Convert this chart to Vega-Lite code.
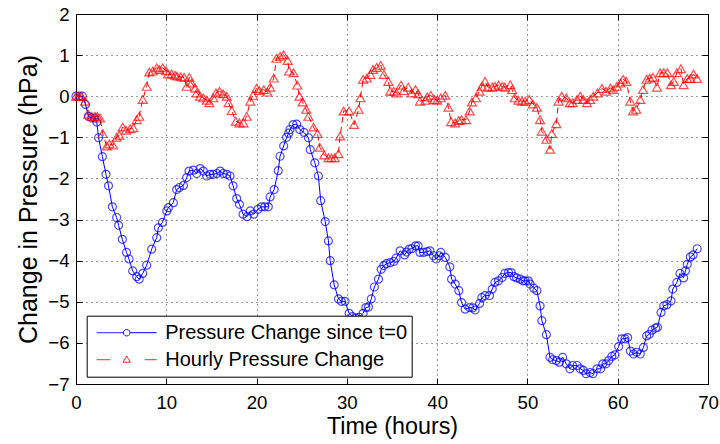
{
"$schema": "https://vega.github.io/schema/vega-lite/v6.json",
"width": 632, "height": 370,
"autosize": {"type": "none"},
"padding": {"left": 76, "top": 14, "right": 12, "bottom": 60},
"background": "white",
"config": {
 "font": "Liberation Sans",
 "view": {"stroke": "#000", "strokeWidth": 1},
 "axis": {"domainColor": "#000", "domainWidth": 1, "tickColor": "#000", "tickWidth": 1, "tickSize": -6,
  "gridColor": "#000", "gridDash": [1, 4], "gridWidth": 1, "gridOpacity": 0.8,
  "labelColor": "#000", "labelFont": "Liberation Sans", "labelFontSize": 18.6,
  "titleFont": "Liberation Sans", "titleColor": "#000", "titleFontWeight": "normal", "labelOverlap": false}
},
"data": {"values": [
{"t":0.0,"v":0.0,"s":"Pressure Change since t=0"},
{"t":0.35,"v":0.0,"s":"Pressure Change since t=0"},
{"t":0.7,"v":0.0,"s":"Pressure Change since t=0"},
{"t":1.05,"v":-0.2,"s":"Pressure Change since t=0"},
{"t":1.37,"v":-0.49,"s":"Pressure Change since t=0"},
{"t":1.74,"v":-0.53,"s":"Pressure Change since t=0"},
{"t":2.05,"v":-0.53,"s":"Pressure Change since t=0"},
{"t":2.3,"v":-0.63,"s":"Pressure Change since t=0"},
{"t":2.5,"v":-1.01,"s":"Pressure Change since t=0"},
{"t":2.92,"v":-1.47,"s":"Pressure Change since t=0"},
{"t":3.32,"v":-1.9,"s":"Pressure Change since t=0"},
{"t":3.6,"v":-2.18,"s":"Pressure Change since t=0"},
{"t":4.03,"v":-2.69,"s":"Pressure Change since t=0"},
{"t":4.5,"v":-2.95,"s":"Pressure Change since t=0"},
{"t":4.72,"v":-3.14,"s":"Pressure Change since t=0"},
{"t":5.13,"v":-3.48,"s":"Pressure Change since t=0"},
{"t":5.6,"v":-3.8,"s":"Pressure Change since t=0"},
{"t":5.87,"v":-3.96,"s":"Pressure Change since t=0"},
{"t":6.28,"v":-4.25,"s":"Pressure Change since t=0"},
{"t":6.72,"v":-4.39,"s":"Pressure Change since t=0"},
{"t":7.0,"v":-4.45,"s":"Pressure Change since t=0"},
{"t":7.39,"v":-4.31,"s":"Pressure Change since t=0"},
{"t":7.83,"v":-4.11,"s":"Pressure Change since t=0"},
{"t":8.38,"v":-3.72,"s":"Pressure Change since t=0"},
{"t":8.94,"v":-3.44,"s":"Pressure Change since t=0"},
{"t":9.12,"v":-3.2,"s":"Pressure Change since t=0"},
{"t":9.57,"v":-3.07,"s":"Pressure Change since t=0"},
{"t":10.05,"v":-2.79,"s":"Pressure Change since t=0"},
{"t":10.23,"v":-2.71,"s":"Pressure Change since t=0"},
{"t":10.78,"v":-2.59,"s":"Pressure Change since t=0"},
{"t":11.15,"v":-2.27,"s":"Pressure Change since t=0"},
{"t":11.45,"v":-2.22,"s":"Pressure Change since t=0"},
{"t":11.9,"v":-2.17,"s":"Pressure Change since t=0"},
{"t":12.26,"v":-1.98,"s":"Pressure Change since t=0"},
{"t":12.52,"v":-1.82,"s":"Pressure Change since t=0"},
{"t":13.0,"v":-1.8,"s":"Pressure Change since t=0"},
{"t":13.37,"v":-1.88,"s":"Pressure Change since t=0"},
{"t":13.74,"v":-1.76,"s":"Pressure Change since t=0"},
{"t":14.1,"v":-1.82,"s":"Pressure Change since t=0"},
{"t":14.48,"v":-1.94,"s":"Pressure Change since t=0"},
{"t":14.85,"v":-1.9,"s":"Pressure Change since t=0"},
{"t":15.2,"v":-1.9,"s":"Pressure Change since t=0"},
{"t":15.6,"v":-1.88,"s":"Pressure Change since t=0"},
{"t":15.96,"v":-1.82,"s":"Pressure Change since t=0"},
{"t":16.3,"v":-1.88,"s":"Pressure Change since t=0"},
{"t":16.7,"v":-1.9,"s":"Pressure Change since t=0"},
{"t":17.06,"v":-1.94,"s":"Pressure Change since t=0"},
{"t":17.4,"v":-2.18,"s":"Pressure Change since t=0"},
{"t":17.8,"v":-2.49,"s":"Pressure Change since t=0"},
{"t":18.1,"v":-2.63,"s":"Pressure Change since t=0"},
{"t":18.5,"v":-2.87,"s":"Pressure Change since t=0"},
{"t":18.95,"v":-2.93,"s":"Pressure Change since t=0"},
{"t":19.3,"v":-2.79,"s":"Pressure Change since t=0"},
{"t":19.7,"v":-2.87,"s":"Pressure Change since t=0"},
{"t":20.15,"v":-2.75,"s":"Pressure Change since t=0"},
{"t":20.55,"v":-2.69,"s":"Pressure Change since t=0"},
{"t":20.9,"v":-2.69,"s":"Pressure Change since t=0"},
{"t":21.3,"v":-2.69,"s":"Pressure Change since t=0"},
{"t":21.5,"v":-2.45,"s":"Pressure Change since t=0"},
{"t":21.95,"v":-2.27,"s":"Pressure Change since t=0"},
{"t":22.4,"v":-1.81,"s":"Pressure Change since t=0"},
{"t":22.6,"v":-1.46,"s":"Pressure Change since t=0"},
{"t":23.0,"v":-1.21,"s":"Pressure Change since t=0"},
{"t":23.33,"v":-1.0,"s":"Pressure Change since t=0"},
{"t":23.55,"v":-0.9,"s":"Pressure Change since t=0"},
{"t":23.7,"v":-0.81,"s":"Pressure Change since t=0"},
{"t":24.05,"v":-0.69,"s":"Pressure Change since t=0"},
{"t":24.45,"v":-0.68,"s":"Pressure Change since t=0"},
{"t":24.78,"v":-0.81,"s":"Pressure Change since t=0"},
{"t":25.25,"v":-0.88,"s":"Pressure Change since t=0"},
{"t":25.75,"v":-1.01,"s":"Pressure Change since t=0"},
{"t":25.95,"v":-1.3,"s":"Pressure Change since t=0"},
{"t":26.45,"v":-1.62,"s":"Pressure Change since t=0"},
{"t":26.85,"v":-1.94,"s":"Pressure Change since t=0"},
{"t":27.1,"v":-2.54,"s":"Pressure Change since t=0"},
{"t":27.6,"v":-3.05,"s":"Pressure Change since t=0"},
{"t":27.96,"v":-3.52,"s":"Pressure Change since t=0"},
{"t":28.15,"v":-4.0,"s":"Pressure Change since t=0"},
{"t":28.6,"v":-4.59,"s":"Pressure Change since t=0"},
{"t":29.07,"v":-4.93,"s":"Pressure Change since t=0"},
{"t":29.4,"v":-4.99,"s":"Pressure Change since t=0"},
{"t":29.8,"v":-4.99,"s":"Pressure Change since t=0"},
{"t":30.25,"v":-5.28,"s":"Pressure Change since t=0"},
{"t":30.6,"v":-5.36,"s":"Pressure Change since t=0"},
{"t":31.0,"v":-5.4,"s":"Pressure Change since t=0"},
{"t":31.35,"v":-5.38,"s":"Pressure Change since t=0"},
{"t":31.8,"v":-5.28,"s":"Pressure Change since t=0"},
{"t":32.1,"v":-5.14,"s":"Pressure Change since t=0"},
{"t":32.4,"v":-5.13,"s":"Pressure Change since t=0"},
{"t":32.7,"v":-4.93,"s":"Pressure Change since t=0"},
{"t":33.05,"v":-4.64,"s":"Pressure Change since t=0"},
{"t":33.5,"v":-4.45,"s":"Pressure Change since t=0"},
{"t":33.8,"v":-4.21,"s":"Pressure Change since t=0"},
{"t":34.1,"v":-4.12,"s":"Pressure Change since t=0"},
{"t":34.4,"v":-4.07,"s":"Pressure Change since t=0"},
{"t":34.8,"v":-4.05,"s":"Pressure Change since t=0"},
{"t":35.2,"v":-4.02,"s":"Pressure Change since t=0"},
{"t":35.45,"v":-3.94,"s":"Pressure Change since t=0"},
{"t":35.9,"v":-3.76,"s":"Pressure Change since t=0"},
{"t":36.4,"v":-3.86,"s":"Pressure Change since t=0"},
{"t":36.6,"v":-3.79,"s":"Pressure Change since t=0"},
{"t":36.9,"v":-3.72,"s":"Pressure Change since t=0"},
{"t":37.2,"v":-3.71,"s":"Pressure Change since t=0"},
{"t":37.6,"v":-3.64,"s":"Pressure Change since t=0"},
{"t":37.9,"v":-3.64,"s":"Pressure Change since t=0"},
{"t":38.1,"v":-3.8,"s":"Pressure Change since t=0"},
{"t":38.5,"v":-3.8,"s":"Pressure Change since t=0"},
{"t":38.9,"v":-3.78,"s":"Pressure Change since t=0"},
{"t":39.2,"v":-3.76,"s":"Pressure Change since t=0"},
{"t":39.6,"v":-3.88,"s":"Pressure Change since t=0"},
{"t":39.9,"v":-3.96,"s":"Pressure Change since t=0"},
{"t":40.25,"v":-3.88,"s":"Pressure Change since t=0"},
{"t":40.4,"v":-3.8,"s":"Pressure Change since t=0"},
{"t":40.9,"v":-3.92,"s":"Pressure Change since t=0"},
{"t":41.4,"v":-4.15,"s":"Pressure Change since t=0"},
{"t":41.6,"v":-4.45,"s":"Pressure Change since t=0"},
{"t":42.0,"v":-4.57,"s":"Pressure Change since t=0"},
{"t":42.4,"v":-4.73,"s":"Pressure Change since t=0"},
{"t":42.7,"v":-5.02,"s":"Pressure Change since t=0"},
{"t":43.1,"v":-5.18,"s":"Pressure Change since t=0"},
{"t":43.6,"v":-5.14,"s":"Pressure Change since t=0"},
{"t":43.95,"v":-5.15,"s":"Pressure Change since t=0"},
{"t":44.2,"v":-5.2,"s":"Pressure Change since t=0"},
{"t":44.7,"v":-5.04,"s":"Pressure Change since t=0"},
{"t":44.95,"v":-4.9,"s":"Pressure Change since t=0"},
{"t":45.3,"v":-4.85,"s":"Pressure Change since t=0"},
{"t":45.8,"v":-4.85,"s":"Pressure Change since t=0"},
{"t":46.1,"v":-4.69,"s":"Pressure Change since t=0"},
{"t":46.4,"v":-4.53,"s":"Pressure Change since t=0"},
{"t":46.8,"v":-4.49,"s":"Pressure Change since t=0"},
{"t":47.2,"v":-4.41,"s":"Pressure Change since t=0"},
{"t":47.5,"v":-4.31,"s":"Pressure Change since t=0"},
{"t":47.9,"v":-4.29,"s":"Pressure Change since t=0"},
{"t":48.2,"v":-4.29,"s":"Pressure Change since t=0"},
{"t":48.5,"v":-4.39,"s":"Pressure Change since t=0"},
{"t":48.8,"v":-4.42,"s":"Pressure Change since t=0"},
{"t":49.2,"v":-4.45,"s":"Pressure Change since t=0"},
{"t":49.5,"v":-4.49,"s":"Pressure Change since t=0"},
{"t":49.75,"v":-4.49,"s":"Pressure Change since t=0"},
{"t":50.1,"v":-4.49,"s":"Pressure Change since t=0"},
{"t":50.3,"v":-4.57,"s":"Pressure Change since t=0"},
{"t":50.7,"v":-4.67,"s":"Pressure Change since t=0"},
{"t":51.05,"v":-4.73,"s":"Pressure Change since t=0"},
{"t":51.4,"v":-5.1,"s":"Pressure Change since t=0"},
{"t":51.6,"v":-5.46,"s":"Pressure Change since t=0"},
{"t":52.1,"v":-5.8,"s":"Pressure Change since t=0"},
{"t":52.5,"v":-6.35,"s":"Pressure Change since t=0"},
{"t":52.8,"v":-6.41,"s":"Pressure Change since t=0"},
{"t":53.2,"v":-6.43,"s":"Pressure Change since t=0"},
{"t":53.55,"v":-6.47,"s":"Pressure Change since t=0"},
{"t":53.9,"v":-6.35,"s":"Pressure Change since t=0"},
{"t":54.3,"v":-6.51,"s":"Pressure Change since t=0"},
{"t":54.7,"v":-6.63,"s":"Pressure Change since t=0"},
{"t":55.0,"v":-6.55,"s":"Pressure Change since t=0"},
{"t":55.5,"v":-6.55,"s":"Pressure Change since t=0"},
{"t":55.85,"v":-6.63,"s":"Pressure Change since t=0"},
{"t":56.2,"v":-6.67,"s":"Pressure Change since t=0"},
{"t":56.5,"v":-6.75,"s":"Pressure Change since t=0"},
{"t":56.95,"v":-6.72,"s":"Pressure Change since t=0"},
{"t":57.25,"v":-6.75,"s":"Pressure Change since t=0"},
{"t":57.7,"v":-6.63,"s":"Pressure Change since t=0"},
{"t":58.1,"v":-6.63,"s":"Pressure Change since t=0"},
{"t":58.35,"v":-6.51,"s":"Pressure Change since t=0"},
{"t":58.7,"v":-6.51,"s":"Pressure Change since t=0"},
{"t":59.0,"v":-6.43,"s":"Pressure Change since t=0"},
{"t":59.35,"v":-6.33,"s":"Pressure Change since t=0"},
{"t":59.7,"v":-6.29,"s":"Pressure Change since t=0"},
{"t":60.1,"v":-6.09,"s":"Pressure Change since t=0"},
{"t":60.45,"v":-5.9,"s":"Pressure Change since t=0"},
{"t":60.8,"v":-5.9,"s":"Pressure Change since t=0"},
{"t":61.1,"v":-5.87,"s":"Pressure Change since t=0"},
{"t":61.4,"v":-6.2,"s":"Pressure Change since t=0"},
{"t":61.75,"v":-6.27,"s":"Pressure Change since t=0"},
{"t":62.1,"v":-6.23,"s":"Pressure Change since t=0"},
{"t":62.5,"v":-6.27,"s":"Pressure Change since t=0"},
{"t":62.85,"v":-6.11,"s":"Pressure Change since t=0"},
{"t":63.2,"v":-5.83,"s":"Pressure Change since t=0"},
{"t":63.5,"v":-5.79,"s":"Pressure Change since t=0"},
{"t":63.8,"v":-5.69,"s":"Pressure Change since t=0"},
{"t":64.2,"v":-5.64,"s":"Pressure Change since t=0"},
{"t":64.4,"v":-5.62,"s":"Pressure Change since t=0"},
{"t":64.8,"v":-5.26,"s":"Pressure Change since t=0"},
{"t":65.1,"v":-5.1,"s":"Pressure Change since t=0"},
{"t":65.45,"v":-5.07,"s":"Pressure Change since t=0"},
{"t":65.9,"v":-4.98,"s":"Pressure Change since t=0"},
{"t":66.1,"v":-4.69,"s":"Pressure Change since t=0"},
{"t":66.55,"v":-4.53,"s":"Pressure Change since t=0"},
{"t":66.9,"v":-4.31,"s":"Pressure Change since t=0"},
{"t":67.3,"v":-4.42,"s":"Pressure Change since t=0"},
{"t":67.5,"v":-4.25,"s":"Pressure Change since t=0"},
{"t":67.7,"v":-4.09,"s":"Pressure Change since t=0"},
{"t":68.05,"v":-3.91,"s":"Pressure Change since t=0"},
{"t":68.35,"v":-3.86,"s":"Pressure Change since t=0"},
{"t":68.8,"v":-3.71,"s":"Pressure Change since t=0"},
{"t":0.0,"v":0.0,"s":"Hourly Pressure Change"},
{"t":0.3,"v":0.0,"s":"Hourly Pressure Change"},
{"t":0.6,"v":0.0,"s":"Hourly Pressure Change"},
{"t":1.0,"v":-0.12,"s":"Hourly Pressure Change"},
{"t":1.37,"v":-0.44,"s":"Hourly Pressure Change"},
{"t":1.74,"v":-0.49,"s":"Hourly Pressure Change"},
{"t":2.1,"v":-0.49,"s":"Hourly Pressure Change"},
{"t":2.37,"v":-0.49,"s":"Hourly Pressure Change"},
{"t":2.66,"v":-0.53,"s":"Hourly Pressure Change"},
{"t":2.96,"v":-0.91,"s":"Hourly Pressure Change"},
{"t":3.4,"v":-1.21,"s":"Hourly Pressure Change"},
{"t":3.7,"v":-1.16,"s":"Hourly Pressure Change"},
{"t":4.1,"v":-1.19,"s":"Hourly Pressure Change"},
{"t":4.5,"v":-1.0,"s":"Hourly Pressure Change"},
{"t":4.8,"v":-0.95,"s":"Hourly Pressure Change"},
{"t":5.17,"v":-0.75,"s":"Hourly Pressure Change"},
{"t":5.54,"v":-0.83,"s":"Hourly Pressure Change"},
{"t":6.0,"v":-0.79,"s":"Hourly Pressure Change"},
{"t":6.35,"v":-0.77,"s":"Hourly Pressure Change"},
{"t":6.72,"v":-0.57,"s":"Hourly Pressure Change"},
{"t":7.0,"v":-0.49,"s":"Hourly Pressure Change"},
{"t":7.39,"v":-0.08,"s":"Hourly Pressure Change"},
{"t":7.83,"v":0.24,"s":"Hourly Pressure Change"},
{"t":8.12,"v":0.59,"s":"Hourly Pressure Change"},
{"t":8.5,"v":0.61,"s":"Hourly Pressure Change"},
{"t":8.94,"v":0.69,"s":"Hourly Pressure Change"},
{"t":9.23,"v":0.65,"s":"Hourly Pressure Change"},
{"t":9.6,"v":0.69,"s":"Hourly Pressure Change"},
{"t":9.97,"v":0.62,"s":"Hourly Pressure Change"},
{"t":10.2,"v":0.54,"s":"Hourly Pressure Change"},
{"t":10.6,"v":0.54,"s":"Hourly Pressure Change"},
{"t":10.97,"v":0.51,"s":"Hourly Pressure Change"},
{"t":11.2,"v":0.49,"s":"Hourly Pressure Change"},
{"t":11.6,"v":0.47,"s":"Hourly Pressure Change"},
{"t":11.97,"v":0.46,"s":"Hourly Pressure Change"},
{"t":12.26,"v":0.24,"s":"Hourly Pressure Change"},
{"t":12.55,"v":0.46,"s":"Hourly Pressure Change"},
{"t":12.8,"v":0.32,"s":"Hourly Pressure Change"},
{"t":13.2,"v":0.2,"s":"Hourly Pressure Change"},
{"t":13.37,"v":0.08,"s":"Hourly Pressure Change"},
{"t":13.74,"v":0.0,"s":"Hourly Pressure Change"},
{"t":14.1,"v":-0.04,"s":"Hourly Pressure Change"},
{"t":14.48,"v":-0.1,"s":"Hourly Pressure Change"},
{"t":14.77,"v":-0.16,"s":"Hourly Pressure Change"},
{"t":15.2,"v":-0.04,"s":"Hourly Pressure Change"},
{"t":15.5,"v":0.08,"s":"Hourly Pressure Change"},
{"t":15.9,"v":0.12,"s":"Hourly Pressure Change"},
{"t":16.3,"v":0.06,"s":"Hourly Pressure Change"},
{"t":16.7,"v":0.0,"s":"Hourly Pressure Change"},
{"t":16.9,"v":-0.16,"s":"Hourly Pressure Change"},
{"t":17.25,"v":-0.35,"s":"Hourly Pressure Change"},
{"t":17.7,"v":-0.61,"s":"Hourly Pressure Change"},
{"t":18.1,"v":-0.65,"s":"Hourly Pressure Change"},
{"t":18.55,"v":-0.65,"s":"Hourly Pressure Change"},
{"t":18.9,"v":-0.49,"s":"Hourly Pressure Change"},
{"t":19.3,"v":-0.12,"s":"Hourly Pressure Change"},
{"t":19.6,"v":0.02,"s":"Hourly Pressure Change"},
{"t":20.0,"v":0.19,"s":"Hourly Pressure Change"},
{"t":20.3,"v":0.14,"s":"Hourly Pressure Change"},
{"t":20.8,"v":0.16,"s":"Hourly Pressure Change"},
{"t":21.2,"v":0.1,"s":"Hourly Pressure Change"},
{"t":21.5,"v":0.22,"s":"Hourly Pressure Change"},
{"t":21.9,"v":0.44,"s":"Hourly Pressure Change"},
{"t":22.2,"v":0.92,"s":"Hourly Pressure Change"},
{"t":22.6,"v":0.97,"s":"Hourly Pressure Change"},
{"t":23.0,"v":1.01,"s":"Hourly Pressure Change"},
{"t":23.45,"v":0.87,"s":"Hourly Pressure Change"},
{"t":23.6,"v":0.61,"s":"Hourly Pressure Change"},
{"t":24.1,"v":0.57,"s":"Hourly Pressure Change"},
{"t":24.5,"v":0.27,"s":"Hourly Pressure Change"},
{"t":24.75,"v":0.0,"s":"Hourly Pressure Change"},
{"t":25.1,"v":-0.14,"s":"Hourly Pressure Change"},
{"t":25.5,"v":-0.32,"s":"Hourly Pressure Change"},
{"t":25.75,"v":-0.49,"s":"Hourly Pressure Change"},
{"t":26.3,"v":-0.75,"s":"Hourly Pressure Change"},
{"t":26.75,"v":-0.91,"s":"Hourly Pressure Change"},
{"t":27.0,"v":-1.24,"s":"Hourly Pressure Change"},
{"t":27.5,"v":-1.43,"s":"Hourly Pressure Change"},
{"t":27.96,"v":-1.5,"s":"Hourly Pressure Change"},
{"t":28.3,"v":-1.5,"s":"Hourly Pressure Change"},
{"t":28.65,"v":-1.5,"s":"Hourly Pressure Change"},
{"t":29.07,"v":-1.4,"s":"Hourly Pressure Change"},
{"t":29.25,"v":-0.97,"s":"Hourly Pressure Change"},
{"t":29.65,"v":-0.36,"s":"Hourly Pressure Change"},
{"t":30.25,"v":-0.36,"s":"Hourly Pressure Change"},
{"t":30.8,"v":-0.69,"s":"Hourly Pressure Change"},
{"t":31.3,"v":-0.32,"s":"Hourly Pressure Change"},
{"t":31.5,"v":-0.04,"s":"Hourly Pressure Change"},
{"t":31.8,"v":0.41,"s":"Hourly Pressure Change"},
{"t":32.2,"v":0.44,"s":"Hourly Pressure Change"},
{"t":32.6,"v":0.53,"s":"Hourly Pressure Change"},
{"t":32.9,"v":0.65,"s":"Hourly Pressure Change"},
{"t":33.3,"v":0.7,"s":"Hourly Pressure Change"},
{"t":33.75,"v":0.75,"s":"Hourly Pressure Change"},
{"t":34.1,"v":0.53,"s":"Hourly Pressure Change"},
{"t":34.6,"v":0.36,"s":"Hourly Pressure Change"},
{"t":34.8,"v":0.12,"s":"Hourly Pressure Change"},
{"t":35.2,"v":0.12,"s":"Hourly Pressure Change"},
{"t":35.5,"v":0.08,"s":"Hourly Pressure Change"},
{"t":36.0,"v":0.27,"s":"Hourly Pressure Change"},
{"t":36.3,"v":0.14,"s":"Hourly Pressure Change"},
{"t":36.8,"v":0.22,"s":"Hourly Pressure Change"},
{"t":37.2,"v":0.08,"s":"Hourly Pressure Change"},
{"t":37.6,"v":0.16,"s":"Hourly Pressure Change"},
{"t":37.9,"v":0.06,"s":"Hourly Pressure Change"},
{"t":38.1,"v":-0.12,"s":"Hourly Pressure Change"},
{"t":38.7,"v":-0.1,"s":"Hourly Pressure Change"},
{"t":38.9,"v":-0.02,"s":"Hourly Pressure Change"},
{"t":39.3,"v":0.02,"s":"Hourly Pressure Change"},
{"t":39.7,"v":-0.08,"s":"Hourly Pressure Change"},
{"t":40.0,"v":-0.1,"s":"Hourly Pressure Change"},
{"t":40.4,"v":-0.04,"s":"Hourly Pressure Change"},
{"t":40.9,"v":0.02,"s":"Hourly Pressure Change"},
{"t":41.25,"v":-0.27,"s":"Hourly Pressure Change"},
{"t":41.55,"v":-0.62,"s":"Hourly Pressure Change"},
{"t":42.0,"v":-0.65,"s":"Hourly Pressure Change"},
{"t":42.4,"v":-0.59,"s":"Hourly Pressure Change"},
{"t":42.7,"v":-0.57,"s":"Hourly Pressure Change"},
{"t":43.2,"v":-0.57,"s":"Hourly Pressure Change"},
{"t":43.6,"v":-0.36,"s":"Hourly Pressure Change"},
{"t":43.85,"v":-0.14,"s":"Hourly Pressure Change"},
{"t":44.3,"v":-0.04,"s":"Hourly Pressure Change"},
{"t":44.7,"v":0.12,"s":"Hourly Pressure Change"},
{"t":44.95,"v":0.24,"s":"Hourly Pressure Change"},
{"t":45.3,"v":0.36,"s":"Hourly Pressure Change"},
{"t":45.6,"v":0.22,"s":"Hourly Pressure Change"},
{"t":46.1,"v":0.22,"s":"Hourly Pressure Change"},
{"t":46.4,"v":0.24,"s":"Hourly Pressure Change"},
{"t":46.8,"v":0.27,"s":"Hourly Pressure Change"},
{"t":47.2,"v":0.24,"s":"Hourly Pressure Change"},
{"t":47.5,"v":0.22,"s":"Hourly Pressure Change"},
{"t":48.1,"v":0.28,"s":"Hourly Pressure Change"},
{"t":48.3,"v":0.16,"s":"Hourly Pressure Change"},
{"t":48.6,"v":-0.04,"s":"Hourly Pressure Change"},
{"t":49.0,"v":-0.1,"s":"Hourly Pressure Change"},
{"t":49.4,"v":-0.12,"s":"Hourly Pressure Change"},
{"t":49.75,"v":-0.12,"s":"Hourly Pressure Change"},
{"t":50.2,"v":-0.08,"s":"Hourly Pressure Change"},
{"t":50.6,"v":-0.19,"s":"Hourly Pressure Change"},
{"t":51.05,"v":-0.27,"s":"Hourly Pressure Change"},
{"t":51.4,"v":-0.57,"s":"Hourly Pressure Change"},
{"t":51.6,"v":-0.85,"s":"Hourly Pressure Change"},
{"t":52.1,"v":-1.05,"s":"Hourly Pressure Change"},
{"t":52.5,"v":-1.29,"s":"Hourly Pressure Change"},
{"t":52.7,"v":-0.91,"s":"Hourly Pressure Change"},
{"t":53.2,"v":-0.67,"s":"Hourly Pressure Change"},
{"t":53.45,"v":-0.12,"s":"Hourly Pressure Change"},
{"t":53.8,"v":0.0,"s":"Hourly Pressure Change"},
{"t":54.3,"v":-0.04,"s":"Hourly Pressure Change"},
{"t":54.7,"v":-0.16,"s":"Hourly Pressure Change"},
{"t":55.0,"v":-0.16,"s":"Hourly Pressure Change"},
{"t":55.5,"v":-0.08,"s":"Hourly Pressure Change"},
{"t":55.85,"v":0.0,"s":"Hourly Pressure Change"},
{"t":56.2,"v":-0.08,"s":"Hourly Pressure Change"},
{"t":56.6,"v":-0.16,"s":"Hourly Pressure Change"},
{"t":56.95,"v":-0.08,"s":"Hourly Pressure Change"},
{"t":57.3,"v":0.0,"s":"Hourly Pressure Change"},
{"t":57.75,"v":0.08,"s":"Hourly Pressure Change"},
{"t":58.25,"v":0.19,"s":"Hourly Pressure Change"},
{"t":58.7,"v":0.12,"s":"Hourly Pressure Change"},
{"t":59.2,"v":0.2,"s":"Hourly Pressure Change"},
{"t":59.5,"v":0.16,"s":"Hourly Pressure Change"},
{"t":59.9,"v":0.24,"s":"Hourly Pressure Change"},
{"t":60.3,"v":0.32,"s":"Hourly Pressure Change"},
{"t":60.6,"v":0.41,"s":"Hourly Pressure Change"},
{"t":60.95,"v":0.36,"s":"Hourly Pressure Change"},
{"t":61.4,"v":-0.12,"s":"Hourly Pressure Change"},
{"t":61.7,"v":-0.36,"s":"Hourly Pressure Change"},
{"t":62.05,"v":-0.32,"s":"Hourly Pressure Change"},
{"t":62.5,"v":-0.08,"s":"Hourly Pressure Change"},
{"t":62.8,"v":0.16,"s":"Hourly Pressure Change"},
{"t":63.2,"v":0.41,"s":"Hourly Pressure Change"},
{"t":63.55,"v":0.44,"s":"Hourly Pressure Change"},
{"t":63.9,"v":0.46,"s":"Hourly Pressure Change"},
{"t":64.35,"v":0.22,"s":"Hourly Pressure Change"},
{"t":64.7,"v":0.57,"s":"Hourly Pressure Change"},
{"t":65.1,"v":0.57,"s":"Hourly Pressure Change"},
{"t":65.5,"v":0.57,"s":"Hourly Pressure Change"},
{"t":65.9,"v":0.28,"s":"Hourly Pressure Change"},
{"t":66.2,"v":0.36,"s":"Hourly Pressure Change"},
{"t":66.55,"v":0.57,"s":"Hourly Pressure Change"},
{"t":67.0,"v":0.67,"s":"Hourly Pressure Change"},
{"t":67.3,"v":0.28,"s":"Hourly Pressure Change"},
{"t":67.7,"v":0.43,"s":"Hourly Pressure Change"},
{"t":68.05,"v":0.43,"s":"Hourly Pressure Change"},
{"t":68.4,"v":0.54,"s":"Hourly Pressure Change"},
{"t":68.8,"v":0.43,"s":"Hourly Pressure Change"}
]},
"layer": [
 {
  "transform": [{"filter": "datum.s === 'Pressure Change since t=0'"}],
  "mark": {"type": "line", "strokeWidth": 1},
  "encoding": {
   "x": {"field": "t", "type": "quantitative", "scale": {"domain": [0, 70], "nice": false, "zero": false},
    "axis": {"orient": "bottom", "values": [0, 10, 20, 30, 40, 50, 60, 70], "grid": true, "labelFlush": false,
     "labelPadding": 15.3, "title": "Time (hours)", "titleFontSize": 23.3, "titleBaseline": "alphabetic", "titleY": 49.3}},
   "y": {"field": "v", "type": "quantitative", "scale": {"domain": [-7, 2], "nice": false, "zero": false},
    "axis": {"orient": "left", "values": [-7, -6, -5, -4, -3, -2, -1, 0, 1, 2], "grid": true,
     "labelPadding": 13, "labelBaseline": "middle", "title": "Change in Pressure (hPa)", "titleFontSize": 25,
     "titleBaseline": "alphabetic", "titleX": -39.5}},
   "color": {"field": "s", "type": "nominal",
    "scale": {"domain": ["Pressure Change since t=0", "Hourly Pressure Change"], "range": ["#0000ff", "#ff0000"]},
    "legend": {"orient": "none", "legendX": 10.7, "legendY": 301.7, "title": null,
     "strokeColor": "#000", "fillColor": "#fff", "padding": 4, "clipHeight": 26, "rowPadding": 1,
     "symbolOffset": 5.5, "labelOffset": 8, "labelFontSize": 20, "labelFont": "Liberation Sans", "labelColor": "#000",
     "symbolStrokeWidth": 1, "symbolSize": 3600, "symbolFillColor": "transparent", "labelLimit": 400,
     "labelExpr": "datum.label + '\u00a0\u00a0\u00a0'",
     "encode": {"symbols": {"update": {
      "shape": {"signal": "datum.value === 'Pressure Change since t=0' ? 'M-1,0L-0.11,0M0.11,0L1,0M0.11,0L0.0953,0.055L0.055,0.0953L0,0.11L-0.055,0.0953L-0.0953,0.055L-0.11,0L-0.0953,-0.055L-0.055,-0.0953L0,-0.11L0.055,-0.0953L0.0953,-0.055Z' : 'M-1,0L-0.55,0M0.6,0L1,0M0,-0.125L0.12,0.085L-0.12,0.085Z'"},
      "size": {"value": 3600}, "fill": {"value": "transparent"}, "strokeWidth": {"value": 1},
      "stroke": {"scale": "color", "field": "value"}, "strokeDash": {"value": [1, 0]}}}}}}
  }
 },
 {
  "transform": [{"filter": "datum.s === 'Hourly Pressure Change'"}],
  "mark": {"type": "line", "strokeWidth": 1, "color": "#ff0000", "strokeDash": [6, 4]},
  "encoding": {
   "x": {"field": "t", "type": "quantitative", "axis": null},
   "y": {"field": "v", "type": "quantitative", "axis": null}
  }
 },
 {
  "transform": [{"filter": "datum.s === 'Pressure Change since t=0'"}],
  "mark": {"type": "point", "shape": "circle", "filled": false, "strokeWidth": 1.2, "size": 64, "color": "#0000ff"},
  "encoding": {
   "x": {"field": "t", "type": "quantitative",
    "axis": {"orient": "top", "values": [0, 10, 20, 30, 40, 50, 60, 70], "labels": false, "grid": false, "domain": false, "title": null}},
   "y": {"field": "v", "type": "quantitative",
    "axis": {"orient": "right", "values": [-7, -6, -5, -4, -3, -2, -1, 0, 1, 2], "labels": false, "grid": false, "domain": false, "title": null}}
  }
 },
 {
  "transform": [{"filter": "datum.s === 'Hourly Pressure Change'"}],
  "mark": {"type": "point", "shape": "triangle-up", "filled": false, "strokeWidth": 1.2, "size": 80, "color": "#ff0000"},
  "encoding": {
   "x": {"field": "t", "type": "quantitative", "axis": null},
   "y": {"field": "v", "type": "quantitative", "axis": null}
  }
 }
],
"resolve": {"axis": {"x": "independent", "y": "independent"}}
}
